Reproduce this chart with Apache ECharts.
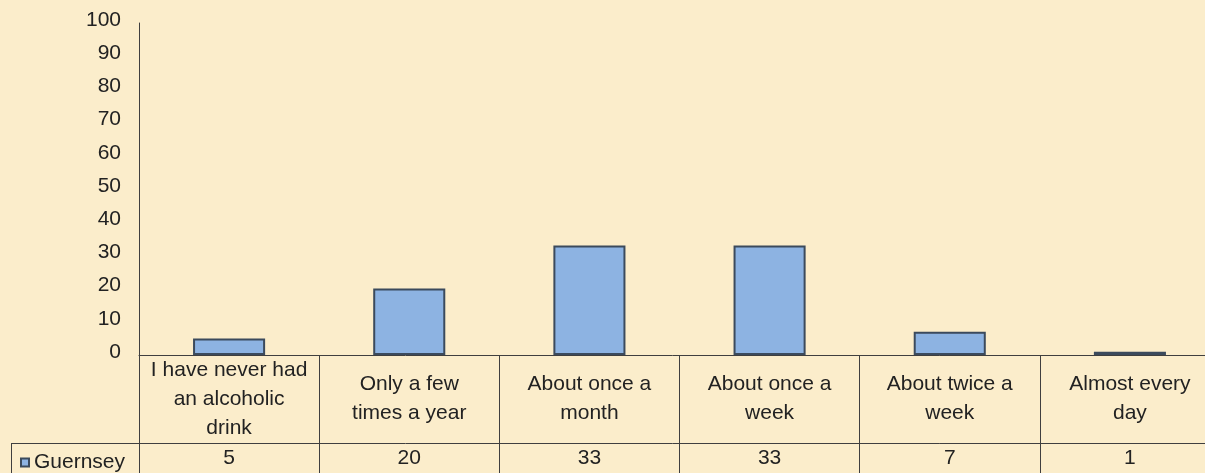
<!DOCTYPE html>
<html>
<head>
<meta charset="utf-8">
<style>
  html, body { margin: 0; padding: 0; background: #FBEDCB; }
  #chart { width: 1205px; height: 473px; }
</style>
<script src="https://cdn.jsdelivr.net/npm/echarts@6/dist/echarts.min.js"></script>
</head>
<body>
<div id="chart"></div>
<script>
// How often young people in Guernsey drink alcohol (%)
const categories = [
  'I have never had\nan alcoholic\ndrink',
  'Only a few\ntimes a year',
  'About once a\nmonth',
  'About once a\nweek',
  'About twice a\nweek',
  'Almost every\nday'
];
const seriesName = 'Guernsey';
const guernsey = [5, 20, 33, 33, 7, 1];
const yTicks = { min: 0, max: 100, interval: 10 };

const font = 'Liberation Sans, Arial, sans-serif';
const fontSize = 21;
const ink = '#222222';
const rule = '#3f3f3f';
const barFill = '#8DB3E2';
const barEdge = '#3B4A5C';

const chart = echarts.init(document.getElementById('chart'), null, { renderer: 'canvas' });

chart.setOption({
  backgroundColor: '#FBEDCB',
  animation: false,
  textStyle: { fontFamily: font },
  // the plot (and its data table) runs on past the right edge of the page
  grid: [
    { left: 139, width: 1081, top: 23, bottom: 118, outerBoundsMode: 'none', containLabel: false },
    { left: 139, width: 1081, top: 443, height: 40, outerBoundsMode: 'none', containLabel: false }
  ],
  legend: {
    left: 15, top: 447,
    icon: 'rect', itemWidth: 8, itemHeight: 8, itemGap: 4,
    textStyle: { fontFamily: font, fontSize: fontSize, color: ink, padding: [2, 0, 0, 0] },
    data: [seriesName]
  },
  xAxis: [
    {
      type: 'category', gridIndex: 0, data: categories,
      axisLine: { lineStyle: { color: rule, width: 1 } },
      axisTick: { show: true, interval: 0, length: 130, lineStyle: { color: rule } },
      axisLabel: {
        interval: 0, margin: 44, verticalAlign: 'middle',
        fontFamily: font, fontSize: fontSize, lineHeight: 29, color: ink
      }
    },
    {
      type: 'category', gridIndex: 1, position: 'top', data: guernsey.map(String),
      axisLine: { onZero: false, lineStyle: { color: rule, width: 1 } },
      axisTick: { show: false },
      axisLabel: {
        inside: true, interval: 0, margin: 15, verticalAlign: 'middle',
        fontFamily: font, fontSize: fontSize, color: ink
      }
    }
  ],
  yAxis: [
    {
      type: 'value', gridIndex: 0,
      min: yTicks.min, max: yTicks.max, interval: yTicks.interval,
      axisLine: { show: true, lineStyle: { color: rule, width: 1 } },
      axisTick: { show: false },
      splitLine: { show: false },
      // labels sit a few pixels above their tick values
      axisLabel: {
        margin: 18, verticalAlign: 'bottom', lineHeight: 6,
        fontFamily: font, fontSize: fontSize, color: ink
      }
    },
    { type: 'value', gridIndex: 1, show: false }
  ],
  series: [
    {
      name: seriesName, type: 'bar', xAxisIndex: 0, yAxisIndex: 0,
      data: guernsey, barWidth: '40%',
      itemStyle: { color: barFill, borderColor: barEdge, borderWidth: 2 }
    }
  ],
  graphic: [
    // Legend cell border of the data table
    { type: 'line', shape: { x1: 11, y1: 443.5, x2: 139, y2: 443.5 }, style: { stroke: rule, lineWidth: 1 } },
    { type: 'line', shape: { x1: 11.5, y1: 443, x2: 11.5, y2: 480 }, style: { stroke: rule, lineWidth: 1 } }
  ]
});
</script>
</body>
</html>
